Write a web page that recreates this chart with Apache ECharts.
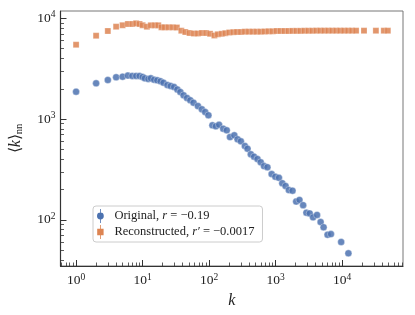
<!DOCTYPE html>
<html><head><meta charset="utf-8">
<script src="https://cdn.jsdelivr.net/npm/echarts@6/dist/echarts.min.js"></script>
<style>html,body{margin:0;padding:0;background:#fff}#c{width:415px;height:315px}</style>
</head><body><div id="c"></div>
<script>
const kOriginal = [1,2,3,4,5,6,7,8,9,10,
  10.8,12.2,13.3,14.9,16.6,18.6,20.6,23.6,26.4,29.7,
  33.3,36.9,41.3,46.5,52.1,58.3,67.8,77.8,87.2,97.6,
  112,126,141,163,184,206,239,268,300,345,
  378,424,474,533,597,669,752,871,990,1120,
  1259,1410,1579,1794,2037,2281,2591,2902,3251,3653,
  4192,4745,5259,6034,6782,9663,12416];
const knnOriginal = [1870,2265,2443,2600,2635,2700,2680,2680,2680,2617,
  2540,2499,2540,2460,2426,2371,2297,2179,2130,2082,
  1967,1857,1722,1620,1537,1455,1349,1251,1176,1091,
  868,848,880,803,774,664,691,630,602,541,
  509,448,424,402,373,342,333,285,268,262,
  231,217,198,195,152,158,140,118,116,106,
  112,95.3,84.5,71.3,72.4,60.4,46.6];
const kReconstructed = [1,2,3,4,5,6,7,8,9,10,
  11.6,13.3,15.3,17.2,19.2,21.5,24.7,28.5,32.7,38.2,
  43.8,50.8,59.1,67.8,77.8,90.2,103.5,120,134.9,154.7,
  175.1,200.9,230.5,261.8,300.4,344.6,395.4,453.6,520.5,597.2,
  685,786,902,1035,1187,1362,1563,1794,2058,2361,
  2709,3108,3566,4092,4695,5387,6180,7091,8136,9335,
  10712,12290,14102,16180,21300,32170,42350,48600];
const knnReconstructed = [5470,6720,7480,8260,8530,8780,8780,8920,8780,8530,
  8255,8522,8522,8522,8141,8141,8141,8141,8104,7534,
  7314,7148,7067,7067,7148,7148,7019,6752,6940,7019,
  7115,7231,7282,7314,7314,7364,7364,7364,7364,7364,
  7396,7430,7430,7483,7483,7483,7483,7500,7500,7500,
  7520,7520,7520,7540,7540,7540,7540,7540,7540,7540,
  7540,7540,7540,7540,7540,7540,7540,7540];
const seriesNames = ['Original', 'Reconstructed'];
const xMajorTicks = [1,10,100,1000,10000];
const xMinorTicks = [0.6,0.7,0.8,0.9,2,3,4,5,6,7,8,9,20,30,40,50,60,70,80,90,
  200,300,400,500,600,700,800,900,2000,3000,4000,5000,6000,7000,8000,9000,
  20000,30000,40000,50000,60000,70000,80000];
const yMajorTicks = [100,1000,10000];
const yMinorTicks = [40,50,60,70,80,90,200,300,400,500,600,700,800,900,
  2000,3000,4000,5000,6000,7000,8000,9000];
const xMin = 0.583, xMax = 82200, yMin = 34.9, yMax = 11815;

const FONT = 'Liberation Serif';
const BLUE = '#4C72B0', ORANGE = '#DD8452';
const chart = echarts.init(document.getElementById('c'), null, {renderer: 'canvas'});
const pow10Label = v => '10{s|' + Math.round(Math.log10(v)) + '}';
const labelRich = {s: {fontSize: 9.5, fontFamily: FONT, color: '#222', padding: [0, 0, 7, 0]}};

function mkAxis(isX, ticks, major) {
  return {
    type: 'log', logBase: 10, min: isX ? xMin : yMin, max: isX ? xMax : yMax,
    gridIndex: 0,
    position: isX ? 'bottom' : 'left',
    splitLine: {show: false},
    axisLine: {show: major, lineStyle: {color: '#333', width: 1.2}},
    axisTick: {show: true, inside: true, customValues: ticks, length: major ? 6 : 3.5,
      lineStyle: {color: '#333', width: major ? 1 : 0.8}},
    axisLabel: major ? {show: true, customValues: ticks, formatter: pow10Label,
      fontFamily: FONT, fontSize: 13.5, color: '#222', margin: isX ? 6 : 5, rich: labelRich}
      : {show: false},
    minorTick: {show: false},
    z: major ? 3 : 2
  };
}

const xa = mkAxis(true, xMajorTicks, true);
xa.name = 'k';
xa.nameLocation = 'middle';
xa.nameGap = 25;
xa.nameTextStyle = {fontFamily: FONT, fontStyle: 'italic', fontSize: 16, color: '#222'};
const ya = mkAxis(false, yMajorTicks, true);
ya.name = '⟨{i|k}⟩{sub|nn}';
ya.nameLocation = 'middle';
ya.nameGap = 36;
ya.nameRotate = 90;
ya.nameTextStyle = {fontFamily: FONT, fontSize: 16, color: '#222', rich: {
  i: {fontFamily: FONT, fontStyle: 'italic', fontSize: 16, color: '#222'},
  sub: {fontFamily: FONT, fontSize: 10.5, color: '#222', padding: [6, 0, 0, 0]}
}};

const circleBar = 'path://M4.6,0H5.4V14H4.6Z M8.4,7A3.4,3.4,0,1,1,1.6,7A3.4,3.4,0,1,1,8.4,7Z';
const squareBar = 'path://M4.6,0H5.4V14H4.6Z M1.8,3.8H8.2V10.2H1.8Z';

const option = {
  animation: false,
  backgroundColor: '#fff',
  grid: {left: 58, right: 12, top: 11, bottom: 49, show: true, borderColor: '#777', borderWidth: 1},
  xAxis: [xa, mkAxis(true, xMinorTicks, false)],
  yAxis: [ya, mkAxis(false, yMinorTicks, false)],
  legend: {
    orient: 'vertical', left: 93, top: 206,
    backgroundColor: '#fff', borderColor: '#ccc', borderWidth: 1, borderRadius: 3,
    padding: [3, 8, 3, 4], itemGap: 2, itemWidth: 18, itemHeight: 14,
    data: [
      {name: seriesNames[0], icon: circleBar, itemStyle: {color: BLUE, opacity: 1, borderWidth: 0}},
      {name: seriesNames[1], icon: squareBar, itemStyle: {color: ORANGE, opacity: 1, borderWidth: 0}}
    ],
    formatter: function (name) {
      return name === seriesNames[0] ? 'Original, {i|r} = −0.19' : 'Reconstructed, {i|r′} = −0.0017';
    },
    textStyle: {fontFamily: FONT, fontSize: 12.5, color: '#222', rich: {
      i: {fontFamily: FONT, fontStyle: 'italic', fontSize: 12.5, color: '#222'}
    }}
  },
  series: [
    {
      name: seriesNames[0], type: 'scatter', xAxisIndex: 0, yAxisIndex: 0,
      symbol: 'circle', symbolSize: 7,
      itemStyle: {color: BLUE, opacity: 0.85, borderColor: '#fff', borderWidth: 0.4},
      data: kOriginal.map((k, i) => [k, knnOriginal[i]]), z: 4
    },
    {
      name: seriesNames[1], type: 'scatter', xAxisIndex: 0, yAxisIndex: 0,
      symbol: 'rect', symbolSize: 6,
      itemStyle: {color: ORANGE, opacity: 0.85, borderColor: '#fff', borderWidth: 0.3},
      data: kReconstructed.map((k, i) => [k, knnReconstructed[i]]), z: 4
    }
  ]
};
chart.setOption(option);
</script></body></html>
